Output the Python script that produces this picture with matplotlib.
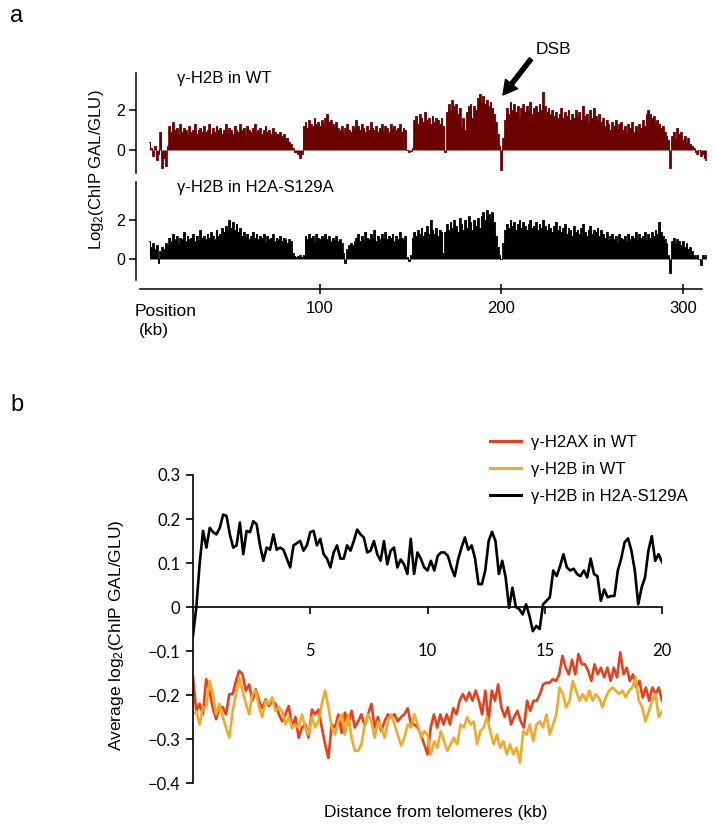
import numpy as np
import matplotlib
matplotlib.use('Agg')
import matplotlib.pyplot as plt

plt.rcParams['font.family'] = ['Liberation Sans', 'DejaVu Sans']
plt.rcParams['mathtext.default'] = 'regular'

# ---- panel a: log2 ChIP GAL/GLU per 1 kb bin, starting at 6 kb ----
track_start_kb = 6
wt_signal = [
    0.4, 0.1, -0.3, 0.2, -0.5, -0.2, 0.9, -0.9, -0.4, -0.8, 0.2,
    1.2, 0.9, 1.4, 1.0, 1.1, 0.8, 1.3, 0.9, 1.1, 1.0,
    0.8, 1.2, 0.9, 1.0, 1.3, 0.8, 1.0, 1.1, 0.9, 1.2,
    0.9, 1.0, 1.3, 0.8, 1.1, 0.9, 1.2, 1.0, 1.1, 0.8,
    1.0, 1.3, 0.9, 1.1, 1.0, 0.8, 1.2, 1.0, 0.9, 1.3,
    1.0, 1.1, 0.8, 1.2, 1.0, 0.9, 1.1, 1.3, 0.9, 1.0,
    1.1, 0.8, 1.0, 1.2, 0.9, 1.0, 0.8, 1.1, 0.9, 0.8,
    0.8, 0.9, 0.7, 0.8, 0.6, 0.6, 0.4, 0.3, 0.1, -0.1,
    -0.1, -0.2, -0.4, -0.2,
    1.2, 1.4, 1.1, 1.5, 1.3, 1.2, 1.6, 1.3, 1.4, 1.2,
    1.5, 1.3, 1.6, 1.8, 1.4, 1.5, 1.3, 1.2, 1.4, 1.1,
    1.0, 1.2, 0.9, 1.1, 1.3, 1.0, 0.9, 1.2, 1.1, 1.5,
    1.2, 1.0, 1.3, 1.1, 0.9, 1.2, 1.0, 1.4, 1.1, 1.0,
    1.2, 0.9, 1.1, 1.3, 1.0, 1.2, 1.1, 0.9, 1.3, 1.1,
    1.2, 1.0, 1.1, 1.3, 0.9, 1.1, 1.0,
    0.0, -0.1, -0.05, 0.1,
    1.5, 1.7, 1.3, 1.8, 1.6, 1.4, 1.9, 1.5, 1.6, 1.3, 1.7, 1.4, 1.6, 1.5, 1.3, 1.6,
    1.2, -0.1,
    1.9, 2.3, 2.0, 2.5, 2.2, 2.3, 1.8, 2.1, 1.2, 1.6,
    1.0, 1.9, 2.2, 2.3, 1.6, 2.2, 2.0, 2.6, 2.8, 2.4,
    2.7, 2.3, 2.5, 2.2, 2.4, 2.1, 1.8, 1.4, 0.8, 0.2,
    -1.0, 0.6,
    1.5, 2.1, 1.8, 2.4, 2.0, 2.3, 1.9, 2.2, 1.7, 2.1,
    2.3, 1.9, 2.2, 2.0, 2.4, 1.8, 2.1, 2.2, 1.9, 2.3,
    2.0, 2.9, 2.2, 1.9, 2.1, 1.8, 2.0, 1.7, 1.9, 1.6,
    1.8, 2.1, 1.6, 1.9, 1.7, 2.0, 1.5, 1.8, 1.6, 2.0,
    1.7, 1.9, 1.5, 2.2, 1.7, 1.8, 1.4, 2.0, 1.6, 2.1,
    1.7, 1.5, 1.8, 1.4, 1.6, 1.2, 1.5, 1.3, 1.0, 1.4,
    1.2, 1.5, 1.1, 1.3, 1.4, 1.0, 1.2, 0.9, 1.3, 1.1,
    1.4, 0.9, 1.2, 1.0, 1.3, 1.1, 1.5, 1.2, 1.8, 2.0,
    1.8, 1.6, 1.7, 1.4, 1.5, 1.3, 1.1, 1.2, 0.9, 0.7,
    0.5, -0.9,
    0.7, 0.9, 0.6, 1.1, 0.8, 0.9, 0.5, 0.7, 0.4, 0.6,
    0.3, 0.2, 0.1, -0.1, -0.2, 0.0, -0.3, -0.2, -0.4, -0.5,
]
s129a_signal = [
    0.9, 0.6, 0.8, 0.5, 0.7, -0.2, 0.4, 0.6, 0.5, 0.8, 0.7,
    1.1, 0.9, 1.3, 1.0, 1.2, 0.8, 1.1, 1.0, 1.4, 0.9,
    1.2, 1.0, 1.1, 1.3, 0.9, 1.2, 1.0, 1.5, 1.1, 1.2,
    1.0, 1.3, 1.1, 1.4, 1.2, 1.0, 1.5, 1.2, 1.3, 1.6,
    1.4, 1.7, 1.5, 2.0, 1.6, 1.9, 1.5, 1.8, 1.4, 1.6,
    1.2, 1.4, 1.1, 1.3, 1.0, 1.2, 1.4, 1.1, 1.3, 1.0,
    1.2, 1.1, 1.3, 0.9, 1.2, 1.0, 1.1, 1.3, 0.9, 1.1,
    1.0, 1.2, 0.9, 1.1, 1.0, 0.8, 1.0, 0.9,
    0.3, 0.15, 0.1, 0.15, 0.2, 0.1, 0.2,
    1.2, 1.0, 1.3, 1.1, 1.2, 0.9, 1.3, 1.1, 1.0, 1.2,
    1.1, 1.3, 1.0, 1.2, 0.9, 1.1, 1.0, 1.2, 0.9, 1.0,
    0.8, 0.3, -0.2, 0.5, 0.7,
    0.8, 0.7, 0.9, 1.1, 1.3, 0.9, 1.2, 1.0, 1.4, 1.1,
    1.0, 1.3, 1.1, 1.5, 0.9, 1.2, 1.0, 1.3, 1.1, 1.4,
    1.0, 1.2, 1.1, 1.3, 0.9, 1.2, 1.0, 1.4, 1.1, 1.0, 1.2,
    0.1, -0.1, 0.2,
    1.1, 1.4, 1.2, 1.5, 1.3, 1.6, 1.2, 1.4, 1.7, 1.3,
    2.0, 1.5, 1.3, 1.6, 1.2, 1.5, 1.4, 0.3,
    1.4, 1.8, 1.5, 1.9, 1.6, 2.0, 1.7, 1.4, 2.1, 1.8,
    1.5, 2.0, 1.6, 2.2, 1.9, 1.5, 2.0, 1.7, 2.1, 1.6,
    2.2, 2.4, 2.0, 2.5, 2.3, 2.1, 2.4, 1.9, 1.2, 0.6,
    0.2, 0.0, 0.8,
    1.5, 1.8, 1.6, 2.0, 1.7, 1.9, 1.5, 1.8, 2.0, 1.6,
    1.9, 1.7, 1.5, 1.8, 2.0, 1.6, 1.7, 1.9, 1.5, 1.8,
    1.6, 2.0, 1.7, 1.5, 1.8, 1.6, 1.4, 1.7, 1.9, 1.5,
    1.7, 1.4, 1.6, 1.8, 1.3, 1.6, 1.5, 1.2, 1.7, 1.4,
    1.5, 1.3, 1.6, 1.8, 1.4, 1.2, 1.5, 1.7, 1.3, 1.5,
    1.4, 1.6, 1.2, 1.5, 1.3, 1.1, 1.4, 1.0, 1.2, 1.3,
    1.0, 1.2, 0.9, 1.3, 1.1, 1.0, 1.2, 0.9, 1.3, 1.0,
    1.2, 1.1, 1.4, 1.0, 1.3, 1.1, 1.2, 1.4, 1.0, 1.3,
    1.1, 1.4, 1.2, 1.5, 1.3, 1.9, 1.4, 1.2, 1.0, 0.8, 0.2,
    -0.7,
    0.9, 1.1, 0.8, 1.0, 0.9, 0.7, 0.9, 0.6, 0.8, 0.5,
    0.6, 0.4, 0.2, 0.1, 0.2, 0.0, -0.3, 0.2, 0.1, 0.2,
]
track_labels = ['\u03b3-H2B in WT', '\u03b3-H2B in H2A-S129A']
track_colors = ['#6b0000', 'black']
pos_ticks = [100, 200, 300]

# ---- panel b: average log2 ChIP GAL/GLU near telomeres (0-10 kb, 10-20 kb) ----
h2b_mut_a = [-0.065, 0.0, 0.1, 0.173, 0.135, 0.18, 0.17, 0.165, 0.18, 0.21, 0.207, 0.165, 0.135,
             0.14, 0.192, 0.12, 0.173, 0.17, 0.195, 0.188, 0.14, 0.105, 0.135, 0.13, 0.165, 0.13,
             0.135, 0.13, 0.11, 0.09, 0.14, 0.145, 0.15, 0.128, 0.14, 0.17, 0.173, 0.14, 0.155,
             0.12, 0.11, 0.09, 0.124, 0.14, 0.11, 0.11, 0.14, 0.128, 0.15, 0.176, 0.165, 0.158,
             0.124, 0.128, 0.15, 0.12, 0.105, 0.15, 0.097, 0.128, 0.135, 0.09, 0.108, 0.097,
             0.075, 0.155, 0.075, 0.124, 0.11, 0.09, 0.083]
h2b_mut_b = [0.105, 0.083, 0.116, 0.124, 0.124, 0.116, 0.09, 0.07, 0.108, 0.135, 0.158, 0.13,
             0.14, 0.11, 0.052, 0.052, 0.083, 0.15, 0.171, 0.15, 0.075, 0.105, 0.067, -0.002,
             0.044, 0.0, -0.005, -0.017, 0.006, -0.02, -0.055, -0.043, -0.05, 0.006, 0.014,
             0.022, 0.083, 0.07, 0.093, 0.12, 0.09, 0.083, 0.087, 0.075, 0.07, 0.083, 0.067,
             0.11, 0.075, 0.07, 0.014, 0.04, 0.022, 0.025, 0.025, 0.083, 0.11, 0.147, 0.156,
             0.128, 0.083, 0.006, 0.044, 0.067, 0.128, 0.161, 0.105, 0.12, 0.102]
h2ax_wt_a = [-0.16, -0.237, -0.22, -0.244, -0.164, -0.19, -0.23, -0.255, -0.228, -0.228, -0.244,
             -0.198, -0.198, -0.168, -0.145, -0.153, -0.19, -0.176, -0.213, -0.187, -0.213, -0.23,
             -0.21, -0.225, -0.213, -0.22, -0.244, -0.26, -0.244, -0.225, -0.274, -0.25, -0.297,
             -0.274, -0.267, -0.297, -0.233, -0.244, -0.233, -0.274, -0.312, -0.343, -0.267,
             -0.274, -0.244, -0.286, -0.24, -0.267, -0.236, -0.274, -0.26, -0.244, -0.27, -0.244,
             -0.22, -0.274, -0.25, -0.282, -0.26, -0.244, -0.25, -0.244, -0.26, -0.25, -0.244,
             -0.23, -0.267, -0.267, -0.274, -0.29, -0.312, -0.335]
h2ax_wt_b = [-0.274, -0.244, -0.274, -0.244, -0.267, -0.244, -0.267, -0.23, -0.244, -0.213,
             -0.198, -0.213, -0.194, -0.213, -0.19, -0.213, -0.244, -0.19, -0.26, -0.19,
             -0.213, -0.176, -0.228, -0.25, -0.228, -0.267, -0.25, -0.236, -0.26, -0.274,
             -0.213, -0.236, -0.213, -0.213, -0.198, -0.176, -0.172, -0.172, -0.164, -0.168,
             -0.153, -0.111, -0.138, -0.153, -0.12, -0.153, -0.107, -0.13, -0.13, -0.145,
             -0.168, -0.13, -0.153, -0.138, -0.16, -0.138, -0.168, -0.138, -0.16, -0.103,
             -0.153, -0.138, -0.168, -0.153, -0.183, -0.168, -0.206, -0.183, -0.213, -0.183,
             -0.198, -0.183, -0.213]
h2b_wt_a = [-0.244, -0.237, -0.267, -0.228, -0.228, -0.168, -0.198, -0.244, -0.22, -0.25, -0.274,
            -0.297, -0.237, -0.198, -0.16, -0.19, -0.22, -0.244, -0.198, -0.19, -0.228, -0.25,
            -0.213, -0.22, -0.205, -0.237, -0.228, -0.237, -0.267, -0.25, -0.274, -0.267, -0.274,
            -0.244, -0.274, -0.29, -0.25, -0.274, -0.26, -0.22, -0.19, -0.228, -0.274, -0.29,
            -0.26, -0.244, -0.29, -0.244, -0.297, -0.327, -0.327, -0.312, -0.267, -0.244, -0.26,
            -0.297, -0.26, -0.274, -0.297, -0.26, -0.244, -0.267, -0.29, -0.315, -0.297, -0.267,
            -0.274, -0.244, -0.267, -0.297, -0.282, -0.29]
h2b_wt_b = [-0.335, -0.305, -0.32, -0.282, -0.305, -0.327, -0.312, -0.297, -0.312, -0.267, -0.274,
            -0.25, -0.267, -0.26, -0.312, -0.282, -0.274, -0.25, -0.282, -0.312, -0.29, -0.32,
            -0.305, -0.335, -0.312, -0.335, -0.32, -0.354, -0.282, -0.29, -0.267, -0.305, -0.267,
            -0.26, -0.274, -0.244, -0.29, -0.267, -0.244, -0.183, -0.198, -0.228, -0.213, -0.168,
            -0.19, -0.213, -0.198, -0.213, -0.19, -0.213, -0.198, -0.208, -0.228, -0.205, -0.19,
            -0.183, -0.19, -0.198, -0.19, -0.205, -0.19, -0.183, -0.16, -0.213, -0.228, -0.26,
            -0.237, -0.213, -0.198, -0.25, -0.237]
line_labels = ['\u03b3-H2AX in WT', '\u03b3-H2B in WT', '\u03b3-H2B in H2A-S129A']
line_colors = ['#e8401a', '#f2a92c', 'black']
b_xticks = [5, 10, 15, 20]
b_yticks = [-0.4, -0.3, -0.2, -0.1, 0, 0.1, 0.2, 0.3]
b_yticklabels = ['\u22120.4', '\u22120.3', '\u22120.2', '\u22120.1', '0', '0.1', '0.2', '0.3']

W, H = 718, 832
fig = plt.figure(figsize=(W / 100, H / 100), dpi=100)


def add_ax(left, top, right, bottom):
    # axes placed in figure pixels (top-left origin)
    return fig.add_axes([left / W, 1 - bottom / H, (right - left) / W, (bottom - top) / H])


def ftext(x, y, s, **kw):
    fig.text(x / W, 1 - y / H, s, **kw)


# ---------------- panel a ----------------
ax_wt = add_ax(136, 73, 710, 173)
ax_mut = add_ax(136, 182, 710, 280)
xlim_a = (-1.4, 315)
for ax, sig, col, lab, ylim in [(ax_wt, wt_signal, track_colors[0], track_labels[0], (-1.15, 3.85)),
                                (ax_mut, s129a_signal, track_colors[1], track_labels[1], (-1.08, 3.95))]:
    pos = np.arange(track_start_kb, track_start_kb + len(sig))
    ax.fill_between(pos, sig, 0, step='mid', color=col, lw=0, antialiased=False)
    ax.step(pos, sig, where='mid', color=col, lw=0.6)
    ax.set_xlim(*xlim_a)
    ax.set_ylim(*ylim)
    ax.set_yticks([0, 2])
    ax.tick_params(axis='y', direction='out', length=5, width=1.1, labelsize=11.5, pad=3)
    for s in ['top', 'right', 'bottom']:
        ax.spines[s].set_visible(False)
    ax.spines['left'].set_linewidth(1.1)
    ax.patch.set_alpha(0)
    ax.text(0.072, 0.94, lab, transform=ax.transAxes, fontsize=12, va='center')

ax_wt.set_xticks([])
ax_mut.spines['bottom'].set_visible(True)
ax_mut.spines['bottom'].set_position(('outward', 6.5))
ax_mut.spines['bottom'].set_bounds(0.8, 310.5)
ax_mut.spines['bottom'].set_linewidth(1.1)
ax_mut.set_xticks(pos_ticks)
ax_mut.tick_params(axis='x', direction='inout', length=7, width=1.1, labelsize=12, pad=5)

ftext(97, 170, 'Log$_2$(ChIP GAL/GLU)', rotation=90, ha='center', va='center', fontsize=12)
ftext(135, 311, 'Position', fontsize=12.5, va='center')
ftext(139, 331, '(kb)', fontsize=12.5, va='center')
ftext(536, 50, 'DSB', fontsize=12.5, va='center')
ax_wt.annotate('', xy=(503, H - 95), xycoords='figure pixels',
               xytext=(531, H - 59), textcoords='figure pixels',
               arrowprops=dict(facecolor='black', edgecolor='black', width=3, headwidth=11,
                               headlength=10, shrink=0))
ftext(10, 16, 'a', fontsize=17, va='center')

# ---------------- panel b ----------------
ax_b = add_ax(193, 475, 662, 783)
series = [(h2ax_wt_a, h2ax_wt_b), (h2b_wt_a, h2b_wt_b), (h2b_mut_a, h2b_mut_b)]
for (va_, vb_), col, lab in zip(series, line_colors, line_labels):
    x = np.concatenate([np.linspace(0, 10, len(va_)), np.linspace(10, 20, len(vb_) + 1)[1:]])
    y = np.concatenate([va_, vb_])
    ax_b.plot(x, y, color=col, lw=1.9, label=lab, solid_joinstyle='round')

ax_b.set_xlim(0, 20)
ax_b.set_ylim(-0.4, 0.3)
for s in ['top', 'right']:
    ax_b.spines[s].set_visible(False)
ax_b.spines['bottom'].set_position(('data', 0))
ax_b.spines['bottom'].set_bounds(0, 20)
ax_b.spines['left'].set_linewidth(1.2)
ax_b.spines['bottom'].set_linewidth(1.2)
ax_b.set_xticks(b_xticks)
ax_b.set_xticklabels([str(t) for t in b_xticks], family=['Lato', 'DejaVu Sans'])
ax_b.set_yticks(b_yticks)
ax_b.set_yticklabels(b_yticklabels, family=['Lato', 'DejaVu Sans'])
ax_b.tick_params(axis='x', direction='out', length=5, width=1.2, labelsize=12, pad=21)
ax_b.tick_params(axis='y', direction='out', length=5, width=1.2, labelsize=12, pad=4)
ax_b.patch.set_alpha(0)

leg = fig.legend(loc='upper left', bbox_to_anchor=(490 / W, 1 - 435 / H), frameon=False,
                 fontsize=12, handlelength=1.85, handletextpad=0.6, labelspacing=0.72,
                 borderpad=0, borderaxespad=0)
for h in leg.get_lines():
    h.set_linewidth(2.2)

ftext(117, 635, 'Average log$_2$(ChIP GAL/GLU)', rotation=90, ha='center', va='center', fontsize=12.5)
ftext(436, 812, 'Distance from telomeres (kb)', ha='center', va='center', fontsize=12.5)
ftext(10, 405, 'b', fontsize=17, va='center')

fig.savefig('out.png', dpi=100)
